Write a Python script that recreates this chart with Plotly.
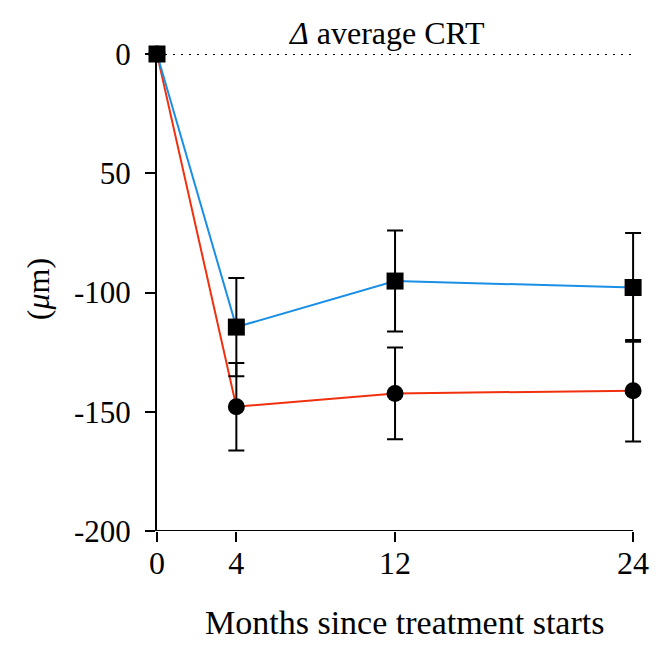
import plotly.graph_objects as go

months = [0, 4, 12, 24]
blue_mean = [0, -114.5, -95.2, -97.9]
blue_err = [0, 20.6, 21.2, 22.8]
red_mean = [0, -147.9, -142.3, -141.2]
red_err = [0, 18.3, 19.2, 21.3]

y_tickvals = [-200, -150, -100, -50, 0]
y_ticktext = ["-200", "-150", "-100", "50", "0"]
x_tickvals = [0, 4, 12, 24]

FONT = "Liberation Serif"
X_MAX = 24.6  # a little room on the right so the error-bar caps at 24 are not clipped

fig = go.Figure()

fig.add_trace(go.Scatter(
    x=months, y=red_mean, mode="lines+markers",
    line=dict(color="#F0300E", width=2),
    marker=dict(symbol="circle", size=17, color="black"),
    error_y=dict(type="data", array=red_err, visible=True, color="black", thickness=2, width=8),
    cliponaxis=False, showlegend=False,
))
fig.add_trace(go.Scatter(
    x=months, y=blue_mean, mode="lines+markers",
    line=dict(color="#1A8FE6", width=2),
    marker=dict(symbol="square", size=17, color="black"),
    error_y=dict(type="data", array=blue_err, visible=True, color="black", thickness=2, width=8),
    cliponaxis=False, showlegend=False,
))

# dotted zero reference line
fig.add_shape(type="line", x0=months[0], x1=months[-1], y0=0, y1=0, xref="x", yref="y",
              line=dict(color="black", width=2, dash="2px,6px"), layer="below")
# x axis line ending at the last month
fig.add_shape(type="line", x0=months[0], x1=months[-1], y0=-200, y1=-200, xref="x", yref="y",
              line=dict(color="black", width=2), layer="above")

fig.update_xaxes(
    range=[0, X_MAX], tickvals=x_tickvals, ticktext=[str(v) for v in x_tickvals],
    showline=False, ticks="outside", ticklen=10,
    tickwidth=2, tickcolor="black", showgrid=False, zeroline=False,
    tickfont=dict(family=FONT, size=32, color="black"), ticklabelstandoff=-6,
)
fig.update_yaxes(
    range=[-200, 0], tickvals=y_tickvals, ticktext=y_ticktext,
    showline=True, linecolor="black", linewidth=2, ticks="outside", ticklen=10,
    tickwidth=2, tickcolor="black", showgrid=False, zeroline=False,
    tickfont=dict(family=FONT, size=31, color="black"), ticklabelstandoff=8,
)

PW = 476 * X_MAX / 24.0
def px_to_xpaper(px):
    return (px - 157) / PW

fig.add_annotation(text="<i>Δ</i> average CRT", xref="paper", yref="paper",
                   x=px_to_xpaper(386), y=1.044, xanchor="center", yanchor="middle", showarrow=False,
                   font=dict(family=FONT, size=32, color="black"))
fig.add_annotation(text="(<i>μ</i>m)", xref="paper", yref="paper",
                   x=px_to_xpaper(38), y=0.507, xanchor="center", yanchor="middle", showarrow=False,
                   textangle=-90, font=dict(family=FONT, size=32, color="black"))
fig.add_annotation(text="Months since treatment starts", xref="paper", yref="paper",
                   x=px_to_xpaper(404), y=-0.149, xanchor="center", yanchor="top", showarrow=False,
                   font=dict(family=FONT, size=34, color="black"))

fig.update_layout(
    width=659, height=640,
    margin=dict(l=149, r=int(round(659 - 149 - PW)), t=46, b=117),
    plot_bgcolor="white", paper_bgcolor="white",
)

fig.write_html("out.html")
